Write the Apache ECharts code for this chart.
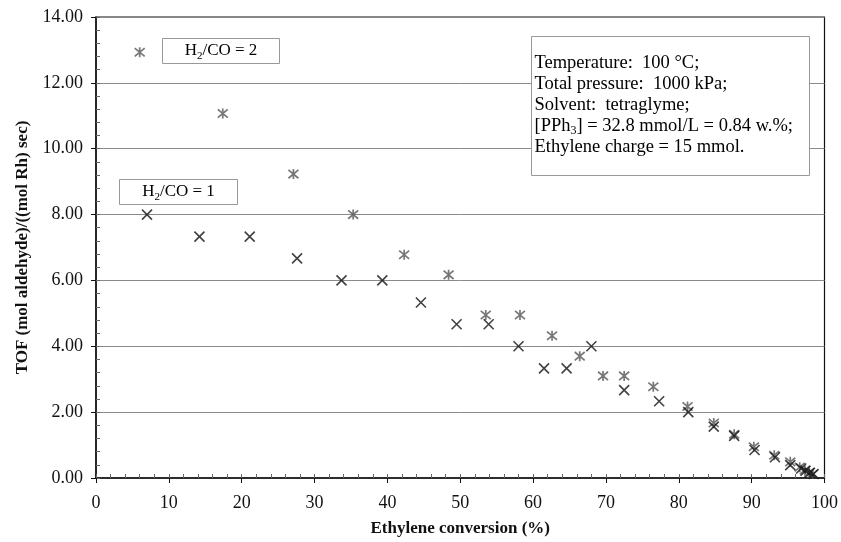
<!DOCTYPE html>
<html><head><meta charset="utf-8">
<script src="https://cdn.jsdelivr.net/npm/echarts@6/dist/echarts.min.js"></script>
<style>html,body{margin:0;padding:0;background:#fff}#c{width:841px;height:542px}</style>
</head><body><div id="c"></div>
<script>
// H2/CO = 1 series (x marks)
var conv1 = [7.0, 14.2, 21.1, 27.6, 33.7, 39.3, 44.6, 49.5, 53.9, 58.0, 61.5, 64.6, 68.0, 72.5, 77.3, 81.3, 84.8, 87.6, 90.4, 93.2, 95.3, 96.8, 97.4, 98.0, 98.5];
var tof1  = [8.0, 7.33, 7.33, 6.67, 6.0, 6.0, 5.33, 4.67, 4.67, 4.0, 3.33, 3.33, 4.0, 2.67, 2.33, 2.0, 1.56, 1.28, 0.85, 0.63, 0.39, 0.29, 0.22, 0.16, 0.12];
// H2/CO = 2 series (asterisks)
var conv2 = [6.0, 17.4, 27.1, 35.3, 42.3, 48.4, 53.5, 58.2, 62.6, 66.4, 69.6, 72.5, 76.5, 81.2, 84.8, 87.6, 90.3, 93.1, 95.3, 96.6, 97.3, 97.9, 98.4];
var tof2  = [12.93, 11.07, 9.23, 8.0, 6.78, 6.17, 4.95, 4.95, 4.32, 3.70, 3.10, 3.10, 2.77, 2.17, 1.67, 1.33, 0.95, 0.69, 0.49, 0.33, 0.24, 0.17, 0.12];
var xTitle = 'Ethylene conversion (%)';
var yTitle = 'TOF (mol aldehyde)/((mol Rh) sec)';
var seriesNames = ['H2/CO = 1', 'H2/CO = 2'];
var noteLines = ['Temperature:  100 \u00B0C;', 'Total pressure:  1000 kPa;', 'Solvent:  tetraglyme;', '[PPh{sub|3}] = 32.8 mmol/L = 0.84 w.%;', 'Ethylene charge = 15 mmol.'];

function pairs(xs, ys){ return xs.map(function(x,i){ return [x, ys[i]]; }); }
var FONT = '"Liberation Serif", "DejaVu Serif", serif';
var chart = echarts.init(document.getElementById('c'));
var gridL = 96, gridT = 17, gridR = 14, gridB = 64;
function rich(fs, lh){
  return {
    n: {fontFamily: FONT, fontSize: fs, color: '#111', lineHeight: lh},
    sub: {fontFamily: FONT, fontSize: Math.round(fs*0.65), color: '#111', lineHeight: lh, verticalAlign: 'bottom', padding: [6,0,0,0]}
  };
}
function legendBox(x, y, w, h, label){
  return {
    type: 'group', left: x, top: y, z: 50, children: [
      {type: 'rect', z: 50, shape: {x: 0, y: 0, width: w, height: h}, style: {fill: '#fff', stroke: '#999', lineWidth: 1}},
      {type: 'text', z: 51, x: w/2, y: h/2, style: {text: label, rich: rich(17, 21), align: 'center', verticalAlign: 'middle', font: '17px ' + FONT}}
    ]
  };
}
chart.setOption({
  animation: false,
  backgroundColor: '#fff',
  grid: {left: gridL, top: gridT, right: gridR, bottom: gridB, show: true, borderColor: '#111', borderWidth: 1.2, backgroundColor: 'transparent'},
  xAxis: [{
    type: 'value', min: 0, max: 100, interval: 10,
    name: xTitle, nameLocation: 'middle', nameGap: 42,
    nameTextStyle: {fontFamily: FONT, fontSize: 17, fontWeight: 'bold', color: '#111'},
    axisLine: {show: true, lineStyle: {color: '#111', width: 1.5}},
    axisTick: {show: true, inside: false, length: 5, lineStyle: {color: '#111'}},
    axisLabel: {fontFamily: FONT, fontSize: 18, color: '#111', margin: 16},
    splitLine: {show: false}
  }, {
    type: 'value', min: 0, max: 100, interval: 2, position: 'bottom',
    axisLine: {show: false},
    axisTick: {show: true, inside: true, length: 4, lineStyle: {color: '#666'}},
    axisLabel: {show: false}, splitLine: {show: false}
  }],
  yAxis: [{
    type: 'value', min: 0, max: 14, interval: 2,
    name: yTitle, nameLocation: 'middle', nameGap: 54,
    nameTextStyle: {fontFamily: FONT, fontSize: 17, fontWeight: 'bold', color: '#111'},
    axisLine: {show: true, lineStyle: {color: '#111', width: 1.5}},
    axisTick: {show: true, inside: false, length: 5, lineStyle: {color: '#111'}},
    axisLabel: {fontFamily: FONT, fontSize: 18, color: '#111', margin: 13, formatter: function(v){ return v.toFixed(2); }},
    splitLine: {show: true, lineStyle: {color: '#8a8a8a', width: 1}}
  }, {
    type: 'value', min: 0, max: 14, interval: 0.4, position: 'left',
    axisLine: {show: false},
    axisTick: {show: true, inside: true, length: 4, lineStyle: {color: '#666'}},
    axisLabel: {show: false}, splitLine: {show: false}
  }],
  series: [{
    name: seriesNames[0], type: 'scatter', xAxisIndex: 0, yAxisIndex: 0,
    data: pairs(conv1, tof1),
    symbol: 'path://M0,0L10,10M0,10L10,0', symbolSize: 10,
    itemStyle: {color: 'rgba(0,0,0,0)', borderColor: '#111', borderWidth: 1.6},
    z: 3
  }, {
    name: seriesNames[1], type: 'scatter', xAxisIndex: 0, yAxisIndex: 0,
    data: pairs(conv2, tof2),
    symbol: 'path://M0,0L10,10M0,10L10,0M5,-1L5,11', symbolSize: 10,
    itemStyle: {color: 'rgba(0,0,0,0)', borderColor: '#555', borderWidth: 1.7},
    z: 2
  }],
  graphic: [
    legendBox(162, 38, 117, 25, 'H{sub|2}/CO = 2'),
    legendBox(119, 179, 118, 25, 'H{sub|2}/CO = 1'),
    {
      type: 'group', left: 531, top: 36, z: 50, children: [
        {type: 'rect', z: 50, shape: {x: 0, y: 0, width: 278, height: 139}, style: {fill: '#fff', stroke: '#999', lineWidth: 1}},
        {type: 'text', z: 51, x: 3, y: 16, style: {text: noteLines.join('\n'), rich: rich(18.5, 21), align: 'left', verticalAlign: 'top', font: '18.5px ' + FONT, lineHeight: 21}}
      ]
    }
  ]
});
</script></body></html>
